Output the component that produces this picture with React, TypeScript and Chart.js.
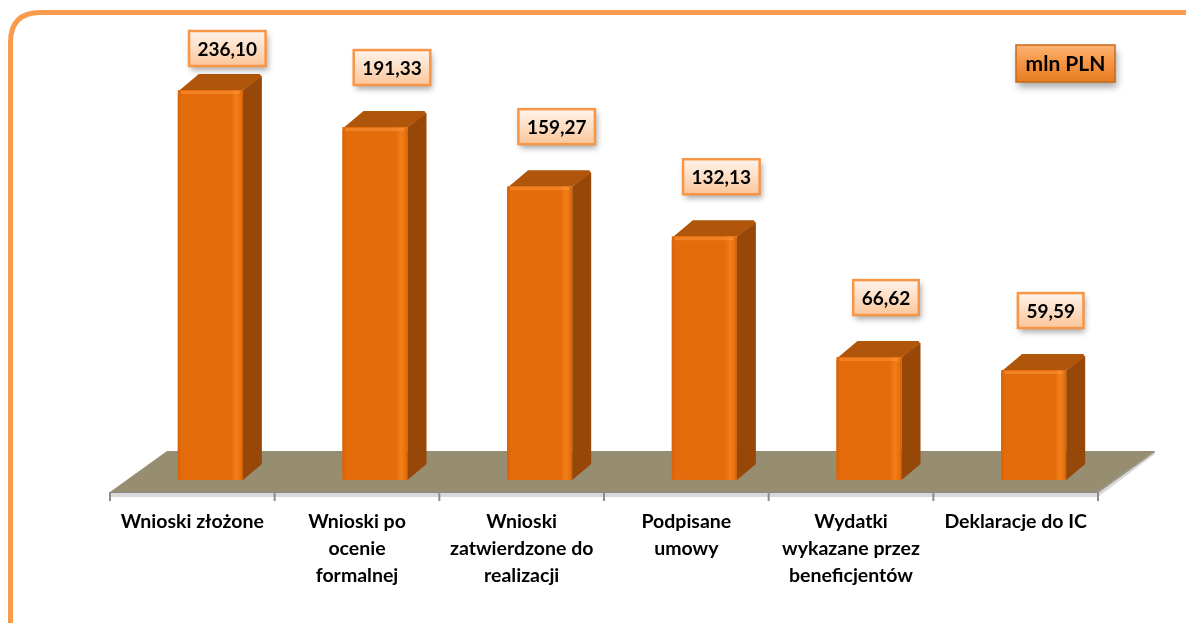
import React, { useEffect, useRef } from "react";
import { Chart, registerables } from "chart.js";

Chart.register(...registerables);

const categories: string[][] = [
  ["Wnioski złożone"],
  ["Wnioski po", "ocenie", "formalnej"],
  ["Wnioski", "zatwierdzone do", "realizacji"],
  ["Podpisane", "umowy"],
  ["Wydatki", "wykazane przez", "beneficjentów"],
  ["Deklaracje do IC"],
];
const values: number[] = [236.1, 191.33, 159.27, 132.13, 66.62, 59.59];
const unitLabel = "mln PLN";
const yMax = 211.4;

const FONT = "Lato, 'Open Sans', 'DejaVu Sans', sans-serif";
const DX = 19;
const DY = -16;
const FLOOR_SHIFT = -18;
const FLOOR_DX = 57;
const FLOOR_DY = -41;

function fmt(v: number): string {
  return v.toFixed(2).replace(".", ",");
}

function poly(ctx: CanvasRenderingContext2D, pts: number[][], fill: string) {
  ctx.beginPath();
  ctx.moveTo(pts[0][0], pts[0][1]);
  for (let i = 1; i < pts.length; i++) ctx.lineTo(pts[i][0], pts[i][1]);
  ctx.closePath();
  ctx.fillStyle = fill;
  ctx.fill();
}

function roundRect(ctx: CanvasRenderingContext2D, x: number, y: number, w: number, h: number, r: number) {
  ctx.beginPath();
  ctx.moveTo(x + r, y);
  ctx.lineTo(x + w - r, y);
  ctx.quadraticCurveTo(x + w, y, x + w, y + r);
  ctx.lineTo(x + w, y + h - r);
  ctx.quadraticCurveTo(x + w, y + h, x + w - r, y + h);
  ctx.lineTo(x + r, y + h);
  ctx.quadraticCurveTo(x, y + h, x, y + h - r);
  ctx.lineTo(x, y + r);
  ctx.quadraticCurveTo(x, y, x + r, y);
  ctx.closePath();
}

const bars3d = {
  id: "bars3d",
  beforeDraw(chart: any) {
    const ctx: CanvasRenderingContext2D = chart.ctx;
    ctx.save();
    ctx.fillStyle = "#ffffff";
    ctx.fillRect(0, 0, chart.width, chart.height);
    ctx.lineWidth = 5;
    ctx.strokeStyle = "#F99B4C";
    roundRect(ctx, 10.5, 12.5, chart.width + 20, chart.height + 30, 30);
    ctx.stroke();
    ctx.restore();
  },
  beforeDatasetsDraw(chart: any) {
    const ctx: CanvasRenderingContext2D = chart.ctx;
    const a = chart.chartArea;
    const fy = a.bottom + 12;
    const fl = a.left + FLOOR_SHIFT;
    const fr = a.right + FLOOR_SHIFT;
    ctx.save();
    poly(ctx, [[fl, fy], [fr, fy], [fr + FLOOR_DX, fy + FLOOR_DY], [fr + FLOOR_DX, fy + FLOOR_DY + 3], [fr, fy + 5], [fl, fy + 5]], "#D9D9D9");
    poly(ctx, [[fl, fy], [fr, fy], [fr + FLOOR_DX, fy + FLOOR_DY], [fl + FLOOR_DX, fy + FLOOR_DY]], "#978D70");
    ctx.strokeStyle = "#8A8A8A";
    ctx.lineWidth = 1;
    ctx.beginPath();
    ctx.moveTo(fl, fy + 0.5);
    ctx.lineTo(fr, fy + 0.5);
    ctx.lineTo(fr + FLOOR_DX, fy + FLOOR_DY + 0.5);
    ctx.stroke();
    const n = values.length;
    ctx.strokeStyle = "#8C8C8C";
    ctx.lineWidth = 2;
    for (let i = 0; i <= n; i++) {
      const x = fl + (i * (fr - fl)) / n;
      ctx.beginPath();
      ctx.moveTo(x, fy);
      ctx.lineTo(x, fy + 9);
      ctx.stroke();
    }
    ctx.restore();
  },
  afterDatasetsDraw(chart: any) {
    const ctx: CanvasRenderingContext2D = chart.ctx;
    const a = chart.chartArea;
    const meta = chart.getDatasetMeta(0);
    ctx.save();
    meta.data.forEach((bar: any, i: number) => {
      const p = bar.getProps(["x", "y", "base", "width"], true);
      const top = Math.max(p.y, a.top);
      const base = p.base;
      const l = p.x - p.width / 2;
      const r = p.x + p.width / 2;
      poly(ctx, [[r, top], [r + DX, top + DY + 2], [r + DX, base + DY], [r, base]], "#974707");
      poly(ctx, [[l + 2, top], [l + DX + 2, top + DY], [r + DX - 2, top + DY], [r + DX, top + DY + 3], [r, top]], "#B0560A");
      const g = ctx.createLinearGradient(l, 0, r, 0);
      g.addColorStop(0, "#D5620A");
      g.addColorStop(0.06, "#E46C0A");
      g.addColorStop(0.82, "#E46C0A");
      g.addColorStop(0.9, "#F27F18");
      g.addColorStop(0.97, "#E8700C");
      g.addColorStop(1, "#C95E08");
      ctx.fillStyle = g;
      roundRect(ctx, l, top, p.width, base - top, 4);
      ctx.fill();
      ctx.fillStyle = "rgba(255,150,60,0.55)";
      ctx.fillRect(l + 3, top + 1, p.width - 6, 3);

      ctx.font = `bold 19px ${FONT}`;
      const txt = fmt(values[i]);
      const tw = ctx.measureText(txt).width;
      const w = tw + 17;
      const h = 35;
      const cx = p.x + 17;
      const bottom = Math.max(top - 42, a.top - 24);
      const bx = cx - w / 2;
      const by = bottom - h;
      ctx.save();
      ctx.shadowColor = "rgba(0,0,0,0.35)";
      ctx.shadowBlur = 6;
      ctx.shadowOffsetX = 2;
      ctx.shadowOffsetY = 4;
      const lg = ctx.createLinearGradient(0, by, 0, by + h);
      lg.addColorStop(0, "#FFF4EC");
      lg.addColorStop(1, "#FBC69B");
      ctx.fillStyle = lg;
      ctx.fillRect(bx, by, w, h);
      ctx.restore();
      ctx.strokeStyle = "#F79646";
      ctx.lineWidth = 2.5;
      ctx.strokeRect(bx, by, w, h);
      ctx.fillStyle = "#000000";
      ctx.textAlign = "center";
      ctx.textBaseline = "middle";
      ctx.fillText(txt, cx, by + h / 2 + 1);
    });

    const ux = chart.width - 170;
    const uy = 45;
    const uw = 99;
    const uh = 37;
    ctx.save();
    ctx.shadowColor = "rgba(0,0,0,0.35)";
    ctx.shadowBlur = 7;
    ctx.shadowOffsetX = 2;
    ctx.shadowOffsetY = 5;
    const ug = ctx.createLinearGradient(0, uy, 0, uy + uh);
    ug.addColorStop(0, "#FBB574");
    ug.addColorStop(0.45, "#F79646");
    ug.addColorStop(1, "#E67C22");
    ctx.fillStyle = ug;
    ctx.fillRect(ux, uy, uw, uh);
    ctx.restore();
    ctx.strokeStyle = "#C8681A";
    ctx.lineWidth = 1.5;
    ctx.strokeRect(ux, uy, uw, uh);
    ctx.fillStyle = "#000000";
    ctx.font = `bold 21px ${FONT}`;
    ctx.textAlign = "center";
    ctx.textBaseline = "middle";
    ctx.fillText(unitLabel, ux + uw / 2, uy + uh / 2 + 1);
    ctx.restore();
  },
};

export default function App() {
  const ref = useRef<HTMLCanvasElement | null>(null);
  useEffect(() => {
    if (!ref.current) return;
    const chart = new Chart(ref.current, {
      type: "bar",
      data: {
        labels: categories,
        datasets: [
          {
            data: values,
            backgroundColor: "#E46C0A",
            borderWidth: 0,
            barPercentage: 0.395,
            categoryPercentage: 1,
          },
        ],
      },
      options: {
        responsive: false,
        animation: false,
        devicePixelRatio: 1,
        layout: { padding: { top: 90, left: 128, right: 70, bottom: 0 } },
        plugins: { legend: { display: false }, tooltip: { enabled: false } },
        scales: {
          x: {
            grid: { display: false, drawTicks: false },
            border: { display: false },
            ticks: {
              color: "#000000",
              labelOffset: FLOOR_SHIFT,
              padding: 28,
              maxRotation: 0,
              autoSkip: false,
              font: { family: FONT, size: 19.5, weight: "bold", lineHeight: "27px" },
            },
            afterFit: (s: any) => {
              s.height = 143;
            },
          },
          y: { display: false, min: 0, max: yMax },
        },
      },
      plugins: [bars3d],
    } as any);
    return () => chart.destroy();
  }, []);
  return (
    <div style={{ position: "fixed", left: 0, top: 0, width: 1186, height: 623, background: "#fff" }}>
      <canvas ref={ref} width={1186} height={623} />
    </div>
  );
}
